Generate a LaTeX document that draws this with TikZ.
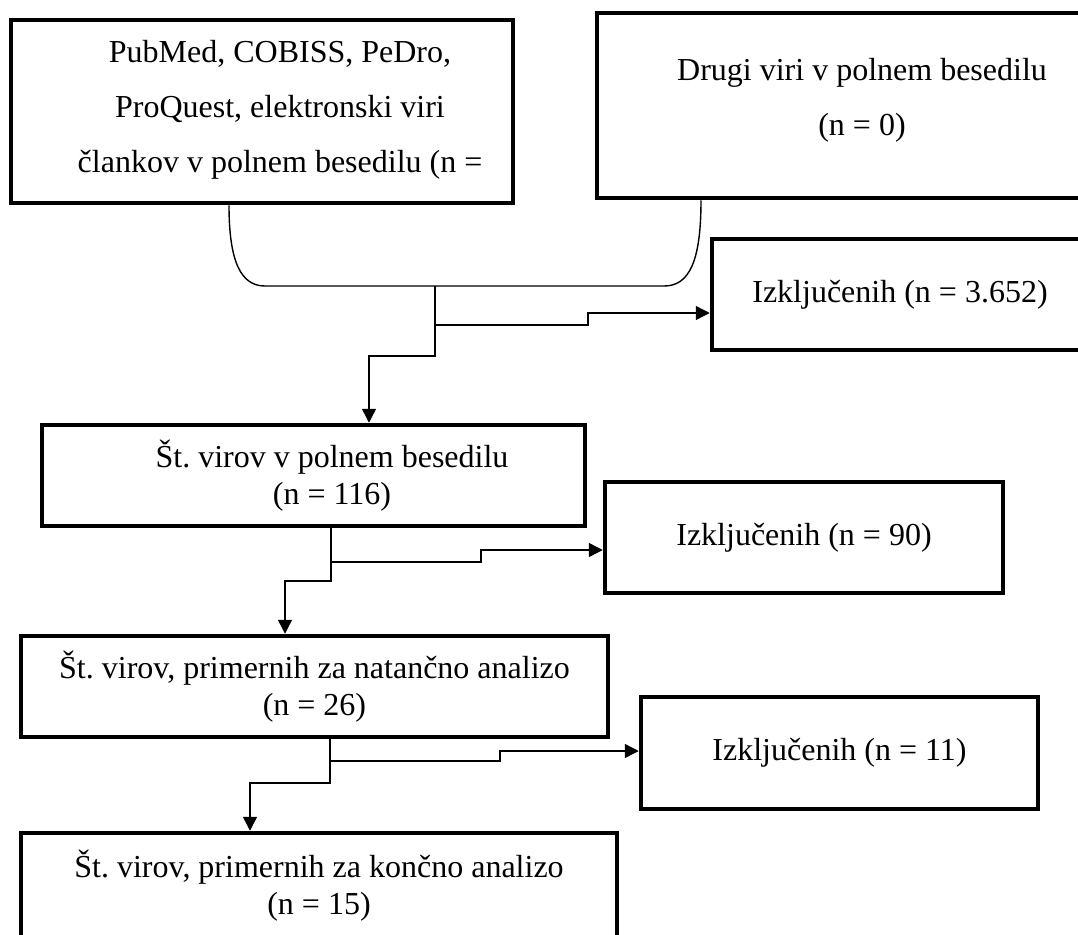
\documentclass[tikz,border=0pt]{standalone}
\usepackage{fontspec}
\setmainfont{Liberation Serif}
\usetikzlibrary{arrows.meta}
\frenchspacing
\tikzset{
	okvir/.style={draw, line width=4.5pt, inner sep=0pt, align=center},
	povezava/.style={line width=1.4pt},
}
\begin{document}
\begin{tikzpicture}[x=1pt, y=-1pt, line join=miter, >={Triangle[length=14pt,width=14pt]}, font=\fontsize{32}{37}\selectfont]
	\useasboundingbox (0,0) rectangle (1078,934);
	\clip (0,0) rectangle (1078,934);
	%Okvirji
	\node[okvir, minimum width=502pt, minimum height=183pt] (baze) at (262,111.5) {};
	\node[align=center, font=\fontsize{32}{55}\selectfont] (bazetxt) at (280,110) {PubMed, COBISS, PeDro,\\ProQuest, elektronski viri\\člankov v polnem besedilu (n =};
	\node[okvir, minimum width=530pt, minimum height=185pt] (drugi) at (862,105.5) {};
	\node[align=center, font=\fontsize{32}{55}\selectfont] (drugitxt) at (862,100) {Drugi viri v polnem besedilu\\(n = 0)};
	\node[okvir, minimum width=376pt, minimum height=111pt] (izkl1) at (900,294.5) {Izključenih (n = 3.652)};
	\node[okvir, minimum width=543pt, minimum height=101pt] (polno) at (313.5,475.5) {};
	\node[align=center] (polnotxt) at (332,476) {Št. virov v polnem besedilu\\(n = 116)};
	\node[okvir, minimum width=398pt, minimum height=111pt] (izkl2) at (804,537.5) {Izključenih (n = 90)};
	\node[okvir, minimum width=587pt, minimum height=101pt] (natancno) at (314.5,686.5) {Št. virov, primernih za natančno analizo\\(n = 26)};
	\node[okvir, minimum width=397pt, minimum height=112pt] (izkl3) at (839.5,753) {Izključenih (n = 11)};
	\node[okvir, minimum width=596pt, minimum height=105pt] (koncno) at (319,885.5) {Št. virov, primernih za končno analizo\\(n = 15)};
	%Povezave
	\coordinate (spoj) at (435,286);
	\coordinate (odcep1) at (435,325);
	\coordinate (odcep2) at (331,562);
	\coordinate (odcep3) at (330,761);
	\draw[povezava] ([xshift=-33pt]baze.south) .. controls (229,262) and (241,286) .. (265,286) -- (664,286) .. controls (689,286) and (701,262) .. ([xshift=-161pt]drugi.south);
	\draw[povezava,->] (spoj) -- (435,356) -| ([xshift=55.5pt]polno.north);
	\draw[povezava,->] (odcep1) -- (588,325) |- ([yshift=-18.5pt]izkl1.west);
	\draw[povezava,->] ([xshift=17.5pt]polno.south) -- (331,581) -| ([xshift=-29.5pt]natancno.north);
	\draw[povezava,->] (odcep2) -- (481,562) |- ([yshift=-12.5pt]izkl2.west);
	\draw[povezava,->] ([xshift=15.5pt]natancno.south) -- (330,783) -| ([xshift=-69pt]koncno.north);
	\draw[povezava,->] (odcep3) -- (500,761) |- ([yshift=2pt]izkl3.west);
\end{tikzpicture}
\end{document}
